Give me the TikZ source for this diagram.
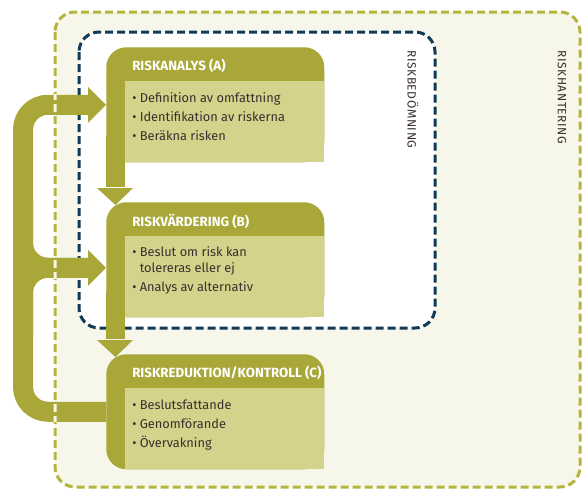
\documentclass[tikz,border=0pt]{standalone}
\usepackage{fontspec}
\setmainfont{Fira Sans}
\usetikzlibrary{arrows.meta}

\definecolor{olive}{HTML}{A8A737}
\definecolor{lightolive}{HTML}{D4D38B}
\definecolor{cream}{HTML}{F6F6EA}
\definecolor{frameolive}{HTML}{B5B43E}
\definecolor{navy}{HTML}{0F3B58}
\definecolor{ink}{HTML}{3A2E2E}

\tikzset{
  stagebox/.style={fill=olive, rounded corners=15pt, minimum width=163.5pt, minimum height=86.25pt, inner sep=0pt, anchor=north west},
  stagebody/.style={fill=lightolive, minimum width=149.25pt, minimum height=60.75pt, inner sep=0pt, anchor=south east},
  stagehead/.style={text=white, font=\bfseries\fontsize{10}{11}\selectfont, inner sep=0pt, anchor=west},
  stagelist/.style={text=ink, font=\fontsize{9.6}{14.25}\selectfont, align=left, inner sep=0pt, anchor=north west},
  frameline/.style={line width=2.25pt, dash pattern=on 6pt off 3pt, rounded corners=15pt},
  band/.style={draw=olive, line width=15pt, rounded corners=18.75pt},
  bandtip/.style={-{Triangle[width=27pt,length=13.5pt,line width=0pt]}},
  shaft/.style={draw=olive, line width=14.25pt},
  sidetext/.style={text=ink, font=\fontsize{9}{10}\selectfont\addfontfeature{LetterSpace=5}, rotate=-90, inner sep=0pt, anchor=west}
}

\begin{document}
\begin{tikzpicture}[x=0.75pt, y=-0.75pt]
    \useasboundingbox (0,0) rectangle (583,490);

    % frames
    \draw[frameline, fill=cream, draw=frameolive] (55,12) rectangle (580,487);
    \draw[frameline, fill=white, draw=navy] (79,32) rectangle (435,328);

    % stages
    \node[stagebox] (A) at (106,47) {};
    \node[stagebox] (B) at (106,202) {};
    \node[stagebox] (C) at (106,354) {};
    \node[stagebody] (Abody) at (A.south east) {};
    \node[stagebody] (Bbody) at (B.south east) {};
    \node[stagebody] (Cbody) at (C.south east) {};

    \node[stagehead] (Ahead) at ([xshift=19.5pt, yshift=-14.25pt]A.north west) {RISKANALYS (A)};
    \node[stagehead] (Bhead) at ([xshift=19.5pt, yshift=-14.25pt]B.north west) {RISKVÄRDERING (B)};
    \node[stagehead] (Chead) at ([xshift=19.5pt, yshift=-14.25pt]C.north west) {RISKREDUKTION/KONTROLL (C)};

    \node[stagelist] (Alist) at ([xshift=19.5pt, yshift=-34pt]A.north west)
        {\textbullet\ Definition av omfattning\\ \textbullet\ Identifikation av riskerna\\ \textbullet\ Beräkna risken};
    \node[stagelist] (Blist) at ([xshift=19.5pt, yshift=-33.25pt]B.north west)
        {\textbullet\ Beslut om risk kan\\[-2.25pt] \phantom{\textbullet\ }tolereras eller ej\\ \textbullet\ Analys av alternativ};
    \node[stagelist] (Clist) at ([xshift=19.5pt, yshift=-34pt]C.north west)
        {\textbullet\ Beslutsfattande\\ \textbullet\ Genomförande\\ \textbullet\ Övervakning};

    \node[sidetext] (bedomning) at (413,50) {RISKBEDÖMNING};
    \node[sidetext] (hantering) at (562,50) {RISKHANTERING};

    % flow
    \draw[shaft] ([xshift=7.1pt, yshift=20pt]A.south west) -- ([xshift=7.1pt, yshift=11pt]B.north west);
    \fill[olive] ([xshift=-6.75pt, yshift=10.5pt]B.north west) -- ([xshift=20.25pt, yshift=10.5pt]B.north west)
        -- ([xshift=7.1pt, yshift=-2.25pt]B.north west) -- cycle;
    \draw[shaft] ([xshift=7.1pt, yshift=20pt]B.south west) -- ([xshift=7.1pt, yshift=11pt]C.north west);
    \fill[olive] ([xshift=-6.75pt, yshift=10.5pt]C.north west) -- ([xshift=20.25pt, yshift=10.5pt]C.north west)
        -- ([xshift=7.1pt, yshift=-2.25pt]C.north west) -- cycle;

    \coordinate (looptop) at (23,200);
    \coordinate (loopbot) at (23,335);
    \draw[band, bandtip] (C.west) -| (looptop) |- (A.west);
    \draw[band, bandtip] (looptop) |- ([yshift=-6pt]B.west);
    \draw[band] (loopbot) |- ([xshift=-13.5pt, yshift=-6pt]B.west);

    % frame seen through the band
    \begin{scope}
        \clip (45,94) rectangle (66,116) (45,257) rectangle (66,279) (45,400) rectangle (66,422);
        \draw[frameline, draw=cream] (55,12) rectangle (580,487);
    \end{scope}
\end{tikzpicture}
\end{document}
